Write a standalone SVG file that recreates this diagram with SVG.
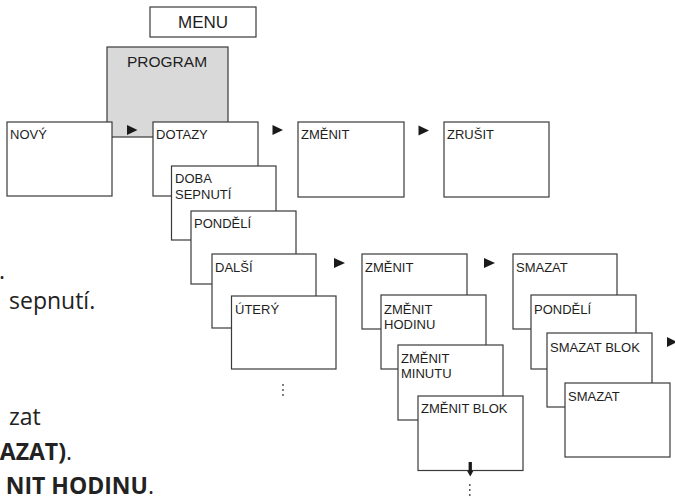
<svg xmlns="http://www.w3.org/2000/svg" width="675" height="497" viewBox="0 0 675 497">
  <style>
    .box { fill: #ffffff; stroke: #3a3a3a; stroke-width: 1.2; }
    .gray { fill: #d9d9d9; stroke: #3a3a3a; stroke-width: 1.2; }
    .lbl { font-family: "Liberation Sans", Arial, sans-serif; font-size: 13px; fill: #1e1e1e; }
    .big { font-family: "Liberation Sans", Arial, sans-serif; fill: #1e1e1e; text-anchor: middle; }
    .page { font-family: "Open Sans", "Noto Sans", sans-serif; font-size: 23px; fill: #222; }
    .pageb { font-family: "Open Sans", "Noto Sans", sans-serif; font-size: 23px; font-weight: bold; fill: #222; text-anchor: end; }
    .arr { fill: #1a1a1a; }
    .dot { fill: #444; }
  </style>

  <g id="page-text">
    <text class="page" x="5" y="279" text-anchor="end">.</text>
    <text class="page" x="9" y="309">sepnutí.</text>
    <text class="page" x="9" y="425">zat</text>
    <text class="pageb" x="72" y="460">AZAT)<tspan font-weight="normal">.</tspan></text>
    <text class="pageb" x="154" y="494">NIT HODINU<tspan font-weight="normal">.</tspan></text>
  </g>

  <g id="menu">
    <rect class="box" x="150" y="7" width="106" height="30"/>
    <text class="big" x="203" y="28" font-size="17">MENU</text>
  </g>

  <g id="program">
    <rect class="gray" x="107" y="47" width="121" height="90"/>
    <text class="big" x="167" y="67" font-size="15.5">PROGRAM</text>
  </g>

  <g id="novy">
    <rect class="box" x="7" y="122" width="105" height="74"/>
    <text class="lbl" x="10" y="139">NOVÝ</text>
  </g>

  <g id="dotazy">
    <rect class="box" x="153" y="122" width="105" height="74"/>
    <text class="lbl" x="156" y="139">DOTAZY</text>
  </g>

  <g id="zmenit-top">
    <rect class="box" x="298" y="122" width="106" height="75"/>
    <text class="lbl" x="301" y="139">ZMĚNIT</text>
  </g>

  <g id="zrusit">
    <rect class="box" x="444" y="122" width="105" height="75"/>
    <text class="lbl" x="447" y="139">ZRUŠIT</text>
  </g>

  <g id="doba-sepnuti">
    <rect class="box" x="171.5" y="166" width="104.5" height="74"/>
    <text class="lbl" x="175" y="183">DOBA</text>
    <text class="lbl" x="175" y="199">SEPNUTÍ</text>
  </g>

  <g id="pondeli">
    <rect class="box" x="191" y="211" width="105" height="73"/>
    <text class="lbl" x="194" y="228">PONDĚLÍ</text>
  </g>

  <g id="dalsi">
    <rect class="box" x="212" y="254" width="104" height="74"/>
    <text class="lbl" x="215" y="272">DALŠÍ</text>
  </g>

  <g id="utery">
    <rect class="box" x="231.5" y="296" width="104.5" height="73"/>
    <text class="lbl" x="235" y="314">ÚTERÝ</text>
  </g>

  <g id="zmenit">
    <rect class="box" x="362" y="254" width="105" height="75"/>
    <text class="lbl" x="365" y="272">ZMĚNIT</text>
  </g>

  <g id="zmenit-hodinu">
    <rect class="box" x="381" y="295" width="105" height="74"/>
    <text class="lbl" x="384" y="314">ZMĚNIT</text>
    <text class="lbl" x="384" y="329">HODINU</text>
  </g>

  <g id="zmenit-minutu">
    <rect class="box" x="398" y="345" width="105" height="75"/>
    <text class="lbl" x="401" y="363">ZMĚNIT</text>
    <text class="lbl" x="401" y="378">MINUTU</text>
  </g>

  <g id="zmenit-blok">
    <rect class="box" x="418" y="396" width="105" height="74.5"/>
    <text class="lbl" x="421" y="413">ZMĚNIT BLOK</text>
  </g>

  <g id="smazat">
    <rect class="box" x="513" y="254" width="104" height="75"/>
    <text class="lbl" x="516" y="272">SMAZAT</text>
  </g>

  <g id="pondeli-2">
    <rect class="box" x="531" y="295" width="105" height="74"/>
    <text class="lbl" x="534" y="314">PONDĚLÍ</text>
  </g>

  <g id="smazat-blok">
    <rect class="box" x="547" y="333" width="105" height="74"/>
    <text class="lbl" x="550" y="352">SMAZAT BLOK</text>
  </g>

  <g id="smazat-2">
    <rect class="box" x="565" y="383" width="105" height="74"/>
    <text class="lbl" x="568" y="401">SMAZAT</text>
  </g>

  <g id="connectors">
    <polygon class="arr" points="127,125 137.5,130 127,135"/>
    <polygon class="arr" points="272.5,125 283,130 272.5,135"/>
    <polygon class="arr" points="418.5,125.5 429,130.5 418.5,135.5"/>
    <polygon class="arr" points="334,258 345,263 334,268"/>
    <polygon class="arr" points="484,258 495,263 484,268"/>
    <polygon class="arr" points="667,337 677,342 667,347"/>
    <path class="arr" d="M468.6,462 H471.9 V471 H473.3 L470.25,476.5 L467.2,471 H468.6 Z"/>
  </g>

  <g id="more-dots">
    <circle class="dot" cx="283" cy="385" r="0.9"/>
    <circle class="dot" cx="283" cy="390" r="0.9"/>
    <circle class="dot" cx="283" cy="395" r="0.9"/>
    <circle class="dot" cx="469.8" cy="485" r="0.9"/>
    <circle class="dot" cx="469.8" cy="490" r="0.9"/>
    <circle class="dot" cx="469.8" cy="495" r="0.9"/>
  </g>
</svg>
